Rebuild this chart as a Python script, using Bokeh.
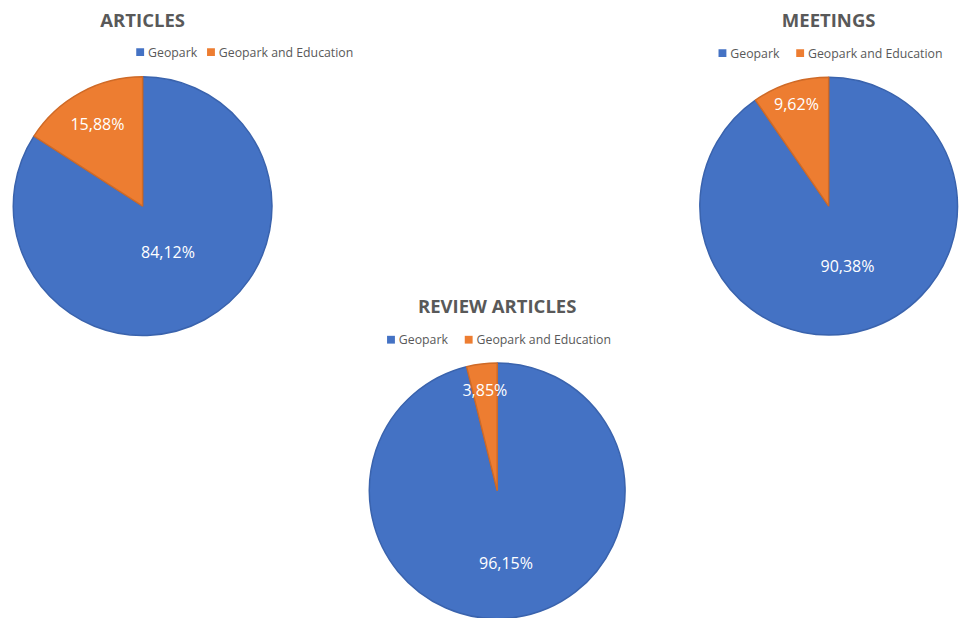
import math
from bokeh.plotting import figure
from bokeh.models import Range1d
from bokeh.core.properties import value
from bokeh.embed import file_html
from bokeh.resources import INLINE

# ---- data ----
titles = ["ARTICLES", "MEETINGS", "REVIEW ARTICLES"]
categories = ["Geopark", "Geopark and Education"]
geopark = [84.12, 90.38, 96.15]
geopark_edu = [15.88, 9.62, 3.85]

# ---- style / layout (reference pixel coordinates, y down) ----
RW, RH = 975, 634          # reference canvas
FW, FH = 959, 618          # figure size that fits the window
colors = ["#4472C4", "#ED7D31"]
edges = ["#3A63AD", "#CF6A27"]
layout = [
    dict(cx=144.5, cy=211, r=131.5, ty=20, ly=53, lx=[138, 210], fr=[0.41, 0.73]),
    dict(cx=842, cy=211, r=131, ty=20, ly=54, lx=[730, 809], fr=[0.49, 0.84]),
    dict(cx=505, cy=503, r=130, ty=313, ly=348, lx=[393, 472], fr=[0.57, 0.80]),
]
FONT = value("Open Sans")
GREY = "#595959"

p = figure(width=FW, height=FH, output_backend="svg", toolbar_location=None,
           x_range=Range1d(0, RW), y_range=Range1d(0, RH),
           x_axis_type=None, y_axis_type=None, min_border=0)
p.grid.visible = False
p.outline_line_color = None
p.background_fill_color = "white"
p.border_fill_color = "white"


def Y(y):
    return RH - y


for i, lay in enumerate(layout):
    vals = [geopark[i], geopark_edu[i]]
    total = sum(vals)
    start = math.pi / 2
    cx, cy, r = lay["cx"], Y(lay["cy"]), lay["r"]
    for k, v in enumerate(vals):
        sweep = 2 * math.pi * v / total
        end = start - sweep
        p.wedge(x=[cx], y=[cy], radius=r, start_angle=[end], end_angle=[start],
                direction="anticlock", fill_color=colors[k], line_color=edges[k],
                line_width=1.5)
        mid = start - sweep / 2
        d = r * lay["fr"][k]
        lbl = f"{v:.2f}".replace(".", ",") + "%"
        p.text(x=[cx + d * math.cos(mid)], y=[cy + d * math.sin(mid)], text=[lbl],
               text_font=FONT, text_font_size="16px", text_color="white",
               text_align="center", text_baseline="middle")
        start = end
    # title
    p.text(x=[cx], y=[Y(lay["ty"])], text=[titles[i]], text_font=FONT,
           text_font_size="18.5px", text_font_style="bold", text_color=GREY,
           text_align="center", text_baseline="middle")
    # legend
    for k, cat in enumerate(categories):
        lx = lay["lx"][k]
        p.rect(x=[lx + 4], y=[Y(lay["ly"])], width=8, height=8,
               fill_color=colors[k], line_color=None)
        p.text(x=[lx + 12], y=[Y(lay["ly"])], text=[cat], text_font=FONT,
               text_font_size="12.3px", text_color=GREY,
               text_align="left", text_baseline="middle")

open("out.html", "w").write(file_html(p, INLINE))
